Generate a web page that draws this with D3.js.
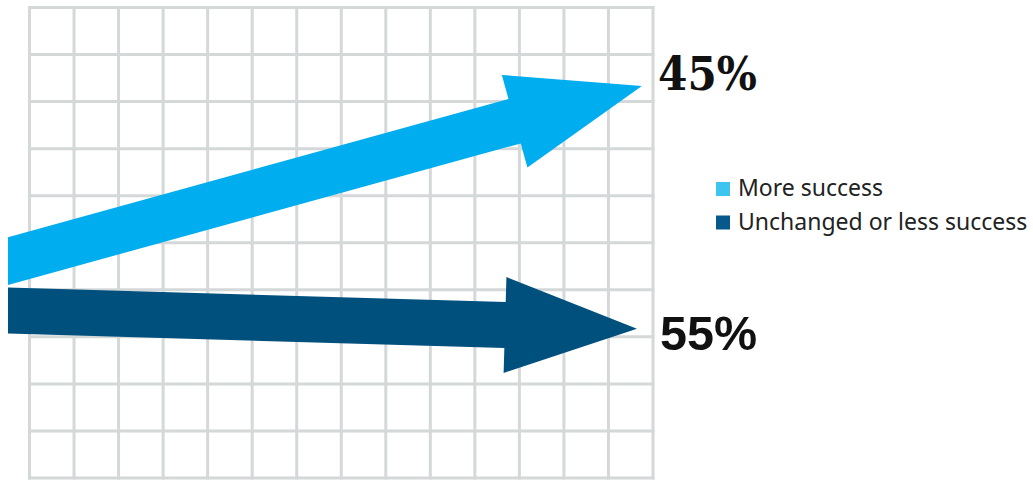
<!DOCTYPE html>
<html><head><meta charset="utf-8">
<script src="https://cdn.jsdelivr.net/npm/d3@7"></script>
<style>html,body{margin:0;padding:0;background:#fff;}svg{display:block;}
.lab0{font-family:"DejaVu Serif",serif;font-weight:bold;font-size:47px;}
.lab1{font-family:"Liberation Sans",Arial,sans-serif;font-weight:bold;font-size:48px;}
.leg{font-family:"Noto Sans",sans-serif;font-size:23px;}
</style>
</head><body>
<svg id="chart" width="1033" height="481"></svg>
<script>
// ---- data ----
const categories = ["More success", "Unchanged or less success"];
const values = [45, 55];
const valueLabels = ["45%", "55%"];
const colors = ["#00adef", "#00507e"];
const legendColors = ["#3fc4ef", "#06598a"];
// arrow start/end in grid units (cols 0..14, rows 0..10)
const arrowTailY = [5.39, 6.44];
const arrowTipX = [13.75, 13.64];
const arrowTipY = [1.67, 6.83];
const gridCols = d3.range(0, 15);
const gridRows = d3.range(0, 11);

// ---- layout ----
const svg = d3.select("#chart");
const x = d3.scaleLinear().domain([0, 14]).range([29.5, 653]);
const y = d3.scaleLinear().domain([0, 10]).range([7.5, 478]);

const grid = svg.append("g").attr("stroke", "#d4d8d8").attr("stroke-width", 3);
grid.selectAll("line.v").data(gridCols).join("line").attr("class", "v")
  .attr("x1", d => x(d)).attr("x2", d => x(d)).attr("y1", y(0) - 1.5).attr("y2", y(10) + 1.5);
grid.selectAll("line.h").data(gridRows).join("line").attr("class", "h")
  .attr("y1", d => y(d)).attr("y2", d => y(d)).attr("x1", x(0) - 1.5).attr("x2", x(14) + 1.5);

const tailX = x(-0.483);
const headLen = 132, headW = 96, shaftW = 46;

function arrowPath(i) {
  const t = [tailX, y(arrowTailY[i])];
  const p = [x(arrowTipX[i]), y(arrowTipY[i])];
  const L = Math.hypot(p[0] - t[0], p[1] - t[1]);
  const d = [(p[0] - t[0]) / L, (p[1] - t[1]) / L];
  const n = [-d[1], d[0]];
  const b = [p[0] - d[0] * headLen, p[1] - d[1] * headLen];
  const side = s => {
    const j = [b[0] + n[0] * s * shaftW / 2, b[1] + n[1] * s * shaftW / 2];
    const k = (j[0] - tailX) / d[0];
    return { j, tail: [tailX, j[1] - d[1] * k],
             h: [b[0] + n[0] * s * headW / 2, b[1] + n[1] * s * headW / 2] };
  };
  const a = side(-1), c = side(1);
  return d3.line()([a.tail, a.j, a.h, p, c.h, c.j, c.tail]) + "Z";
}

svg.append("g").selectAll("path").data(categories).join("path")
  .attr("d", (d, i) => arrowPath(i))
  .attr("fill", (d, i) => colors[i]);

// value labels
const labelX = [658, 660];
const labelDy = [4, 21];
const labelW = [99, 97];
svg.append("g").selectAll("text").data(valueLabels).join("text")
  .attr("class", (d, i) => "lab" + i)
  .attr("x", (d, i) => labelX[i])
  .attr("y", (d, i) => y(arrowTipY[i]) + labelDy[i])
  .attr("textLength", (d, i) => labelW[i])
  .attr("lengthAdjust", "spacingAndGlyphs")
  .attr("fill", "#111")
  .text(d => d);

// legend
const lg = svg.append("g").attr("transform", "translate(716,182)");
const rows = lg.selectAll("g").data(categories).join("g")
  .attr("transform", (d, i) => `translate(0,${i * 33.5})`);
rows.append("rect").attr("width", 14).attr("height", 14).attr("fill", (d, i) => legendColors[i]);
rows.append("text").attr("class", "leg").attr("x", 22).attr("y", 14)
  .attr("fill", "#222").text(d => d);
</script>
</body></html>
